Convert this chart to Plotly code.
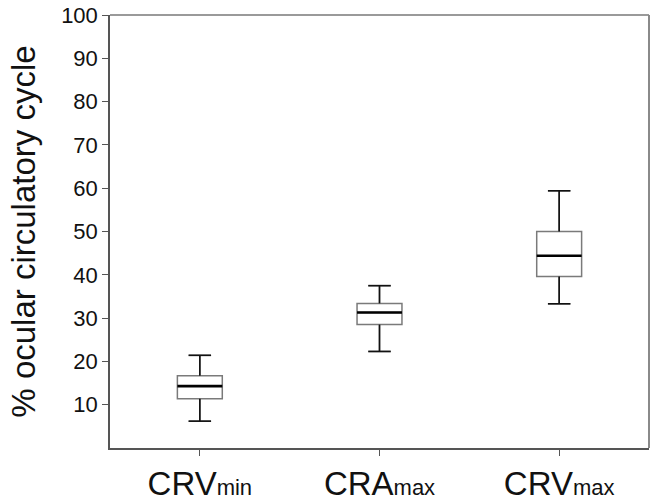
import plotly.graph_objects as go

categories = ["CRV<span style='font-size:22px'>min</span>",
              "CRA<span style='font-size:22px'>max</span>",
              "CRV<span style='font-size:22px'>max</span>"]
lower_whisker = [6.2, 22.3, 33.3]
q1_vals = [11.4, 28.5, 39.6]
median_vals = [14.3, 31.3, 44.4]
q3_vals = [16.7, 33.4, 50.0]
upper_whisker = [21.4, 37.5, 59.4]
y_ticks = [10, 20, 30, 40, 50, 60, 70, 80, 90, 100]

positions = list(range(len(categories)))
box_w = 0.25
cap_w = box_w * 0.5

fig = go.Figure()
fig.add_trace(go.Box(
    x=positions, q1=q1_vals, median=median_vals, q3=q3_vals,
    lowerfence=lower_whisker, upperfence=upper_whisker,
    width=box_w, whiskerwidth=0.5,
    line=dict(color="#7a7a7a", width=1.5),
    fillcolor="rgba(255,255,255,0)", boxpoints=False, showlegend=False,
    hoverinfo="skip",
))

# medians and whiskers in black
mx, my, wx, wy = [], [], [], []
for i, c in enumerate(positions):
    mx += [c - box_w / 2, c + box_w / 2, None]
    my += [median_vals[i], median_vals[i], None]
    wx += [c, c, None, c - cap_w / 2, c + cap_w / 2, None,
           c, c, None, c - cap_w / 2, c + cap_w / 2, None]
    wy += [q3_vals[i], upper_whisker[i], None, upper_whisker[i], upper_whisker[i], None,
           q1_vals[i], lower_whisker[i], None, lower_whisker[i], lower_whisker[i], None]

fig.add_trace(go.Scatter(x=wx, y=wy, mode="lines", line=dict(color="#111111", width=1.6),
                         showlegend=False, hoverinfo="skip"))
fig.add_trace(go.Scatter(x=mx, y=my, mode="lines", line=dict(color="#000000", width=2.6),
                         showlegend=False, hoverinfo="skip"))

fig.update_layout(
    width=658, height=503,
    margin=dict(l=110, r=9, t=15, b=55),
    plot_bgcolor="white", paper_bgcolor="white",
    font=dict(family="Liberation Sans, Arial, sans-serif", color="#111111"),
    xaxis=dict(
        range=[-0.5, 2.5], tickmode="array", tickvals=positions, ticktext=categories,
        showgrid=False, zeroline=False, showline=True, linecolor="#555555", linewidth=1.5,
        ticks="outside", ticklen=6, tickcolor="#555555", tickfont=dict(size=33),
        automargin=False,
    ),
    yaxis=dict(
        range=[0, 100], tickmode="array", tickvals=y_ticks,
        showgrid=False, zeroline=False, showline=True, linecolor="#555555", linewidth=1.5,
        ticks="outside", ticklen=6, tickcolor="#555555", tickfont=dict(size=22),
        title=dict(text="% ocular circulatory cycle", font=dict(size=33), standoff=16),
        automargin=False,
    ),
    shapes=[
        dict(type="line", xref="paper", yref="paper", x0=0, x1=1, y0=1, y1=1,
             line=dict(color="#9a9a9a", width=2)),
        dict(type="line", xref="paper", yref="paper", x0=1, x1=1, y0=0, y1=1,
             line=dict(color="#8a8a8a", width=2)),
    ],
)

fig.write_html("out.html", config={"displayModeBar": False},
               post_script="document.body.style.margin='0';document.body.style.overflow='hidden';")
